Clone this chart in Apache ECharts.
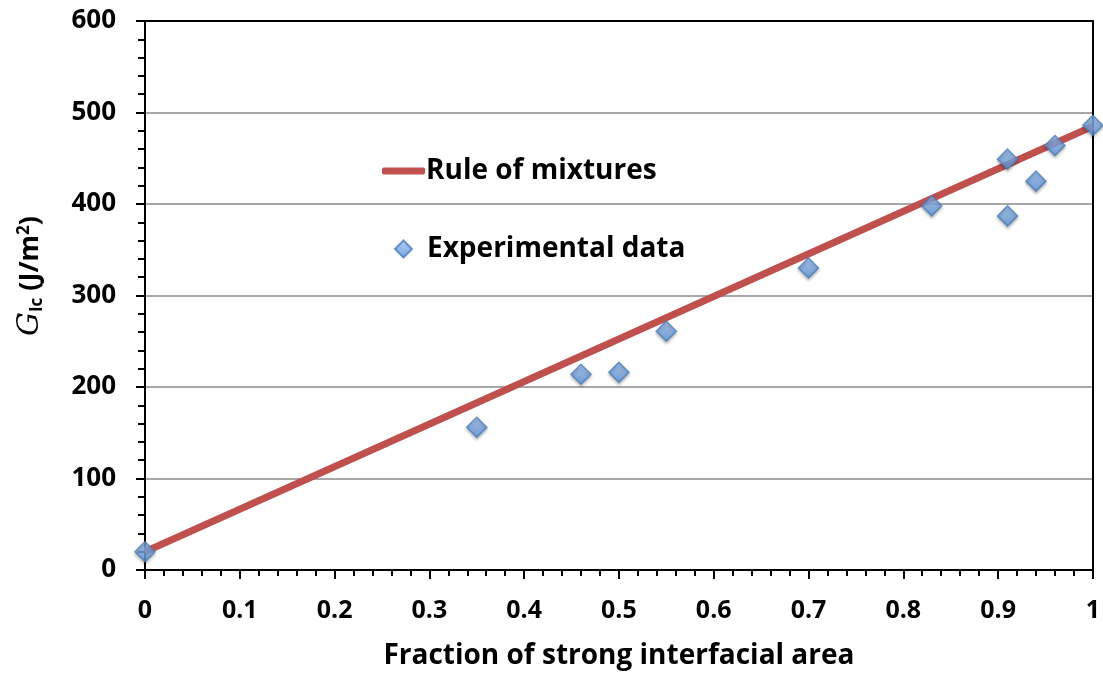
<!DOCTYPE html>
<html><head><meta charset="utf-8">
<script src="https://cdn.jsdelivr.net/npm/echarts@6/dist/echarts.min.js"></script>
<style>html,body{margin:0;padding:0;background:#fff}#c{width:1103px;height:675px}</style>
</head><body><div id="c"></div>
<script>
var fraction = [0, 0.35, 0.46, 0.50, 0.55, 0.70, 0.83, 0.91, 0.91, 0.94, 0.96, 1.0];
var gic = [20, 156, 214, 216, 261, 330, 398, 449, 387, 425, 464, 486];
var ruleX = [0, 1];
var ruleY = [20, 485];
var xTicks = [0, 0.1, 0.2, 0.3, 0.4, 0.5, 0.6, 0.7, 0.8, 0.9, 1];
var yTicks = [0, 100, 200, 300, 400, 500, 600];

var FONT = '"Open Sans", Lato, sans-serif';
var chart = echarts.init(document.getElementById('c'));
chart.setOption({
  backgroundColor: '#fff',
  animation: false,
  grid: {left: 145, right: 9, top: 21, bottom: 103, containLabel: false},
  graphic: [{
    type: 'text', x: 30, y: 276, rotation: Math.PI / 2,
    style: {
      text: '{g|G}{s|Ic}{t| (J/m}{sup|2}{t|)}',
      align: 'center', verticalAlign: 'middle',
      rich: {
        g: {fontFamily: '"DejaVu Serif", serif', fontStyle: 'italic', fontSize: 30, fill: '#000', lineHeight: 36},
        s: {fontFamily: FONT, fontWeight: 'bold', fontSize: 17, fill: '#000', padding: [14, 0, 0, 0], lineHeight: 36},
        t: {fontFamily: FONT, fontWeight: 'bold', fontSize: 27, fill: '#000', lineHeight: 36},
        sup: {fontFamily: FONT, fontWeight: 'bold', fontSize: 17, fill: '#000', padding: [0, 0, 12, 0], lineHeight: 36}
      }
    }
  }],
  legend: [{
    left: 377, top: 152, orient: 'vertical',
    icon: 'roundRect', itemWidth: 43, itemHeight: 7, itemGap: 0,
    data: ['Rule of mixtures'],
    textStyle: {fontFamily: FONT, fontWeight: 'bold', fontSize: 28, color: '#000', padding: [0, 0, 0, -4]}
  }, {
    left: 389, top: 230, orient: 'vertical',
    icon: 'diamond', itemWidth: 17, itemHeight: 17,
    data: ['Experimental data'],
    textStyle: {fontFamily: FONT, fontWeight: 'bold', fontSize: 28, color: '#000', padding: [0, 0, 0, 10]}
  }],
  xAxis: [{
    type: 'value', min: 0, max: 1, interval: 0.1,
    name: 'Fraction of strong interfacial area', nameLocation: 'middle', nameGap: 72,
    nameTextStyle: {fontFamily: FONT, fontWeight: 'bold', fontSize: 28, color: '#000'},
    axisLine: {show: true, onZero: false, lineStyle: {color: '#000', width: 2}},
    axisTick: {show: true, inside: false, length: 9, lineStyle: {color: '#000', width: 2}},
    minorTick: {show: true, splitNumber: 5, length: 6, lineStyle: {color: '#000', width: 2}},
    axisLabel: {margin: 28, fontFamily: FONT, fontWeight: 'bold', fontSize: 25, color: '#000',
      customValues: xTicks, formatter: function (v) { return String(+v.toFixed(1)); }},
    splitLine: {show: false}
  }, {
    type: 'value', min: 0, max: 1, position: 'top',
    axisLine: {show: true, onZero: false, lineStyle: {color: '#000', width: 2}},
    axisTick: {show: false}, axisLabel: {show: false}, splitLine: {show: false}
  }],
  yAxis: [{
    type: 'value', min: 0, max: 600, interval: 100,
    axisLine: {show: true, onZero: false, lineStyle: {color: '#000', width: 2}},
    axisTick: {show: true, inside: false, length: 9, lineStyle: {color: '#000', width: 2}},
    minorTick: {show: true, splitNumber: 5, length: 7, lineStyle: {color: '#000', width: 2}},
    axisLabel: {margin: 29, fontFamily: FONT, fontWeight: 'bold', fontSize: 26, color: '#000',
      customValues: yTicks},
    splitLine: {show: true, lineStyle: {color: '#8a8a8a', width: 1.5}}
  }, {
    type: 'value', min: 0, max: 600, position: 'right',
    axisLine: {show: true, onZero: false, lineStyle: {color: '#000', width: 2}},
    axisTick: {show: false}, axisLabel: {show: false}, splitLine: {show: false}
  }],
  series: [{
    name: 'Rule of mixtures', type: 'line',
    data: ruleX.map(function (x, i) { return [x, ruleY[i]]; }),
    symbol: 'none', lineStyle: {color: '#c0504d', width: 7}, itemStyle: {color: '#c0504d'},
    z: 2
  }, {
    name: 'Experimental data', type: 'scatter',
    data: fraction.map(function (x, i) { return [x, gic[i]]; }),
    symbol: 'diamond', symbolSize: 20,
    itemStyle: {
      color: new echarts.graphic.LinearGradient(0, 0, 0, 1, [
        {offset: 0, color: '#9cc0f0'}, {offset: 1, color: '#5b8fd6'}]),
      borderColor: '#4a7ebb', borderWidth: 1.5,
      shadowColor: 'rgba(0,0,0,0.3)', shadowBlur: 3, shadowOffsetY: 2
    },
    z: 3
  }]
});
</script></body></html>
